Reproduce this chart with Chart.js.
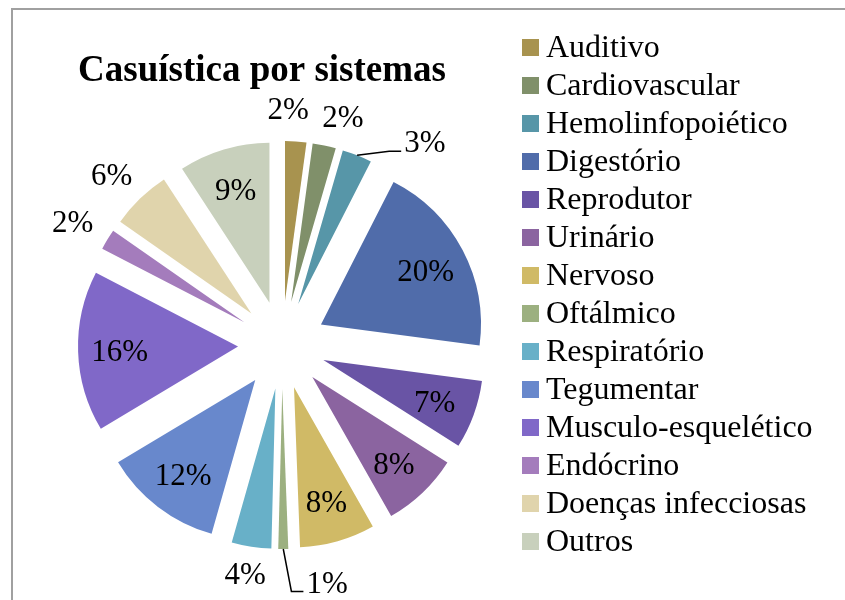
<!DOCTYPE html>
<html>
<head>
<meta charset="utf-8">
<script src="https://cdn.jsdelivr.net/npm/chart.js@4.4.1/dist/chart.umd.min.js"></script>
<style>
  html, body { margin: 0; padding: 0; background: #fff; overflow: hidden; }
  #moldura { position: absolute; left: 11px; top: 8px; width: 900px; height: 700px; border: 2px solid #a0a0a0; }
  #wrap { position: absolute; left: 0; top: 0; width: 845px; height: 600px; }
</style>
</head>
<body>
<div id="moldura"></div>
<div id="wrap"><canvas id="graphCanvas" width="845" height="600"></canvas></div>
<script>
// dados (percentuais estimados pelo angulo das fatias)
var sistemas = ['Auditivo', 'Cardiovascular', 'Hemolinfopoiético', 'Digestório', 'Reprodutor',
  'Urinário', 'Nervoso', 'Oftálmico', 'Respiratório', 'Tegumentar', 'Musculo-esquelético',
  'Endócrino', 'Doenças infecciosas', 'Outros'];
var casos = [2.15, 2.35, 3.0, 19.6, 6.9, 7.8, 7.6, 1.0, 4.0, 12.0, 16.2, 2.1, 6.1, 9.2];
var cores = ['#A8934F', '#80906A', '#5796A8', '#506CAA', '#6954A5', '#8B64A0', '#D0BA66',
  '#9CB080', '#68B0C8', '#6888CC', '#8068C8', '#A47CBC', '#E0D4AC', '#C8D0BC'];
var titulo = 'Casuística por sistemas';

var FONTE = '"Liberation Serif", "Times New Roman", serif';
var EXPLODE = 44;   // quanto cada fatia sai do centro
var RAIO = 160;
var CX = 282, CY = 345;

// o "offset" do Chart.js tambem aumenta o raio das fatias pequenas,
// entao cada arco e so deslocado na hora de desenhar
var explodir = {
  id: 'explodir',
  beforeDatasetsDraw: function (chart) {
    chart.getDatasetMeta(0).data.forEach(function (arc) {
      if (arc._explodido) return;
      var desenhar = arc.draw;
      arc.draw = function (ctx) {
        var mid = (this.startAngle + this.endAngle) / 2;
        ctx.save();
        ctx.translate(Math.cos(mid) * EXPLODE, Math.sin(mid) * EXPLODE);
        desenhar.call(this, ctx);
        ctx.restore();
      };
      arc._explodido = true;
    });
  }
};

// titulo e legenda desenhados a mao para ficar no lugar do original
var tituloLegenda = {
  id: 'tituloLegenda',
  afterDraw: function (chart) {
    var ctx = chart.ctx;
    ctx.save();
    ctx.fillStyle = '#000';
    ctx.font = 'bold 37px ' + FONTE;
    ctx.textAlign = 'center';
    ctx.textBaseline = 'alphabetic';
    ctx.fillText(titulo, 262, 81);

    var cols = chart.data.datasets[0].backgroundColor;
    ctx.font = '32px ' + FONTE;
    ctx.textAlign = 'left';
    ctx.textBaseline = 'middle';
    chart.data.labels.forEach(function (lab, i) {
      var y = 47 + i * 38;
      ctx.fillStyle = cols[i];
      ctx.fillRect(522, y - 8, 17, 17);
      ctx.fillStyle = '#000';
      ctx.fillText(lab, 546, y + 2);
    });
    ctx.restore();
  }
};

var rotulos = {
  id: 'rotulos',
  afterDatasetsDraw: function (chart) {
    var ctx = chart.ctx;
    var meta = chart.getDatasetMeta(0);
    var total = casos.reduce(function (a, b) { return a + b; }, 0);
    ctx.save();
    ctx.font = '31px ' + FONTE;
    ctx.fillStyle = '#000';
    ctx.textAlign = 'center';
    ctx.textBaseline = 'middle';
    var h = 24;
    var fora = [];
    meta.data.forEach(function (arc, i) {
      var p = arc.getProps(['x', 'y', 'startAngle', 'endAngle', 'outerRadius']);
      var mid = (p.startAngle + p.endAngle) / 2;
      var cx = p.x + Math.cos(mid) * EXPLODE;
      var cy = p.y + Math.sin(mid) * EXPLODE;
      var pct = Math.round(casos[i] / total * 100);
      var txt = pct + '%';
      if (casos[i] / total >= 0.065) {
        var rr = p.outerRadius * 0.74;
        ctx.fillText(txt, cx + Math.cos(mid) * rr, cy + Math.sin(mid) * rr + 3);
      } else {
        fora.push({ mid: mid, ang: mid, cx: cx, cy: cy, pct: pct,
          r: p.outerRadius, txt: txt, w: ctx.measureText(txt).width, extra: 0,
          linha: false, preso: false });
      }
    });

    function posicao(l) {
      var a = l.ang, d = l.r + 16 + l.extra;
      var ax = l.cx + Math.cos(a) * d, ay = l.cy + Math.sin(a) * d;
      l.x = ax + Math.cos(a) * (l.w / 2 + 4);
      l.y = ay + Math.sin(a) * (h / 2 + 2);
    }
    function bate(a, b, folga) {
      return Math.abs(a.x - b.x) < (a.w + b.w) / 2 + folga && Math.abs(a.y - b.y) < h + 4;
    }

    // rotulos de fora, no sentido horario a partir do topo:
    // iguais se afastam juntos, senao o menor sai com linha de chamada
    fora.forEach(posicao);
    var colocados = [];
    fora.forEach(function (l) {
      colocados.forEach(function (o) {
        if (!bate(l, o, 6)) return;
        var s = l.mid >= o.mid ? 1 : -1;
        var n = 0;
        if (l.pct === o.pct && !o.preso) {
          while (bate(l, o, 12) && n < 400) {
            l.ang += 0.004 * s; posicao(l);
            o.ang -= 0.004 * s; posicao(o);
            n++;
          }
        } else {
          var mover = (!o.preso && o.pct < l.pct) ? o : l;
          var outro = mover === l ? o : l;
          var sm = mover === l ? s : -s;
          mover.linha = true;
          mover.extra = 10;
          posicao(mover);
          while (bate(mover, outro, 40) && n < 400) {
            mover.ang += 0.004 * sm; posicao(mover);
            n++;
          }
        }
        o.preso = true;
        l.preso = true;
      });
      colocados.push(l);
    });

    fora.forEach(function (l) {
      if (l.linha) {
        var x0 = l.cx + Math.cos(l.mid) * l.r;
        var y0 = l.cy + Math.sin(l.mid) * l.r;
        var lado = l.x > x0 ? 1 : -1;
        var bx = l.x - lado * (l.w / 2 + 3);
        var ey = l.y + 7;
        ctx.beginPath();
        ctx.strokeStyle = '#000';
        ctx.lineWidth = 1.5;
        ctx.moveTo(x0, y0);
        ctx.lineTo(bx - lado * 12, ey);
        ctx.lineTo(bx, ey);
        ctx.stroke();
      }
      ctx.fillText(l.txt, l.x, l.y);
    });
    ctx.restore();
  }
};

var graphTarget = document.getElementById('graphCanvas');
var pieChart = new Chart(graphTarget, {
  type: 'pie',
  data: {
    labels: sistemas,
    datasets: [{
      data: casos,
      backgroundColor: cores,
      borderWidth: 0
    }]
  },
  options: {
    responsive: false,
    animation: false,
    radius: RAIO,
    layout: { padding: { left: CX - 200, right: 845 - CX - 200, top: CY - 200, bottom: 600 - CY - 200 } },
    plugins: {
      legend: { display: false },
      title: { display: false },
      tooltip: { enabled: false }
    }
  },
  plugins: [explodir, rotulos, tituloLegenda]
});
</script>
</body>
</html>
